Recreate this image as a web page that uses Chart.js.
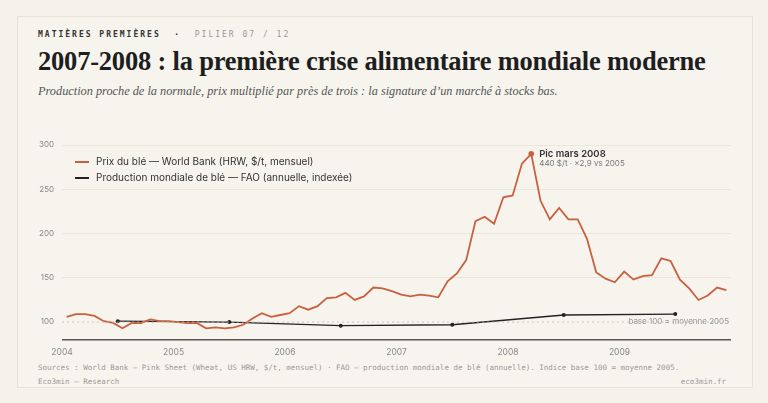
<!DOCTYPE html>
<html>
<head>
<meta charset="utf-8">
<script src="https://cdn.jsdelivr.net/npm/chart.js@4/dist/chart.umd.min.js"></script>
<style>
  body { margin: 0; background: #f5f2ec; width: 768px; height: 403px; overflow: hidden; font-family: Inter, sans-serif; }
  #card { position: absolute; left: 17px; top: 16px; width: 734px; height: 370px; background: #f7f4ee; border: 1px solid #e8e3d8; }
  .kicker { position: absolute; left: 38px; top: 30px; font: bold 8px "DejaVu Sans Mono", monospace; letter-spacing: 2px; color: #333; }
  .kicker span { color: #999; font-weight: normal; }
  h1 { position: absolute; left: 38px; top: 46px; margin: 0; font: bold 26.5px "Liberation Serif", serif; color: #1e1e1e; letter-spacing: -0.2px; white-space: nowrap; }
  .sub { position: absolute; left: 38px; top: 84px; font: italic 12.3px "Liberation Serif", serif; color: #555; white-space: nowrap; }
  #wrap { position: absolute; left: 20px; top: 126px; width: 730px; height: 232px; }
  .legend { position: absolute; left: 75px; font: 10px Inter, sans-serif; color: #333; }
  .legend i { display: inline-block; width: 14px; height: 2px; vertical-align: middle; margin-right: 7px; }
  .src { position: absolute; left: 38px; top: 363px; font: 7.5px "DejaVu Sans Mono", monospace; color: #999; }
  .foot { position: absolute; top: 377px; font: 7.5px "DejaVu Sans Mono", monospace; color: #999; }
</style>
</head>
<body>
<div id="card"></div>
<div class="kicker">MATIÈRES PREMIÈRES &nbsp;· &nbsp;<span>PILIER 07 / 12</span></div>
<h1>2007-2008 : la première crise alimentaire mondiale moderne</h1>
<div class="sub">Production proche de la normale, prix multiplié par près de trois : la signature d’un marché à stocks bas.</div>
<div id="wrap"><canvas id="grafico"></canvas></div>
<div class="legend" style="top:155px"><i style="background:#c8603f"></i>Prix du blé — World Bank (HRW, $/t, mensuel)</div>
<div class="legend" style="top:171px"><i style="background:#222"></i>Production mondiale de blé — FAO (annuelle, indexée)</div>
<div class="src">Sources : World Bank — Pink Sheet (Wheat, US HRW, $/t, mensuel) · FAO — production mondiale de blé (annuelle). Indice base 100 = moyenne 2005.</div>
<div class="foot" style="left:38px">Eco3min — Research</div>
<div class="foot" style="right:42px">eco3min.fr</div>
<script>
var annees = [2004, 2005, 2006, 2007, 2008, 2009];
var prix2004 = [109, 106, 109, 109, 107, 101, 99, 93, 99, 99, 103, 101];
var prix2005 = [101, 100, 99, 99, 93, 94, 93, 94, 97, 104, 110, 106];
var prix2006 = [108, 110, 118, 114, 118, 127, 128, 133, 125, 129, 139, 138];
var prix2007 = [135, 131, 129, 131, 130, 128, 146, 155, 170, 214, 219, 211];
var prix2008 = [241, 243, 279, 290, 237, 216, 229, 216, 216, 194, 156, 149];
var prix2009 = [145, 157, 148, 152, 153, 172, 169, 148, 138, 125, 130, 139];
var prix2010 = [136];
var productionAnnees = [2004.5, 2005.5, 2006.5, 2007.5, 2008.5, 2009.5];
var production = [101, 100, 96, 97, 108, 109];
var yTicks = [100, 150, 200, 250, 300];

var prixSeries = [prix2004, prix2005, prix2006, prix2007, prix2008, prix2009, prix2010];
var prixData = [];
prixSeries.forEach(function (serie, i) {
    serie.forEach(function (v, m) {
        prixData.push({ x: 2004 + i + (m - 0.5) / 12, y: v });
    });
});
prixData.shift();
var picIndex = 50;
var prodData = productionAnnees.map(function (x, i) { return { x: x, y: production[i] }; });

var extras = {
    id: 'extras',
    afterDatasetsDraw: function (chart) {
        var ctx = chart.ctx, xs = chart.scales.x, ys = chart.scales.y, a = chart.chartArea;
        var y100 = ys.getPixelForValue(100);
        ctx.save();
        ctx.strokeStyle = '#c9b9a8'; ctx.lineWidth = 0.8; ctx.setLineDash([2, 3]);
        ctx.beginPath(); ctx.moveTo(a.left, y100); ctx.lineTo(a.right, y100); ctx.stroke();
        ctx.setLineDash([]);
        ctx.font = '8px Inter'; ctx.fillStyle = '#999'; ctx.textAlign = 'right'; ctx.textBaseline = 'middle';
        ctx.fillText('base 100 = moyenne 2005', a.right - 2, y100);
        ctx.strokeStyle = '#555'; ctx.lineWidth = 1.5;
        ctx.beginPath(); ctx.moveTo(a.left, a.bottom); ctx.lineTo(a.right, a.bottom); ctx.stroke();
        var p = prixData[picIndex];
        var px = xs.getPixelForValue(p.x), py = ys.getPixelForValue(p.y);
        ctx.fillStyle = '#c8603f'; ctx.beginPath(); ctx.arc(px, py, 2.8, 0, Math.PI * 2); ctx.fill();
        ctx.textAlign = 'left';
        ctx.font = '600 9.5px Inter'; ctx.fillStyle = '#333'; ctx.fillText('Pic mars 2008', px + 8, py);
        ctx.font = '8px Inter'; ctx.fillStyle = '#777'; ctx.fillText('440 $/t · ×2,9 vs 2005', px + 8, py + 10);
        ctx.restore();
    }
};

new Chart(document.getElementById('grafico'), {
    type: 'scatter',
    data: {
        datasets: [
            { data: prixData, showLine: true, borderColor: '#c8603f', borderWidth: 1.8, pointRadius: 0, tension: 0 },
            { data: prodData, showLine: true, borderColor: '#222', borderWidth: 1.3, pointRadius: 2, pointBackgroundColor: '#222', pointBorderWidth: 0 }
        ]
    },
    options: {
        responsive: true, maintainAspectRatio: false, animation: false,
        layout: { padding: { left: 11, right: 19, top: 19 } },
        plugins: { legend: { display: false }, tooltip: { enabled: false } },
        scales: {
            x: {
                type: 'linear', min: 2004, max: 2010,
                afterBuildTicks: function (s) { s.ticks = annees.map(function (v) { return { value: v }; }); },
                ticks: { color: '#888', font: { family: 'Inter', size: 8.5 }, callback: function (v) { return v; }, padding: 0 },
                grid: { display: false }, border: { display: false }
            },
            y: {
                min: 80, max: 300,
                afterBuildTicks: function (s) { s.ticks = yTicks.map(function (v) { return { value: v }; }); },
                ticks: { color: '#888', font: { family: 'Inter', size: 8 }, padding: 8 },
                grid: { color: function (c) { return c.tick.value === 100 ? 'transparent' : '#ebe5da'; }, drawTicks: false },
                border: { display: false }
            }
        }
    },
    plugins: [extras]
});
</script>
</body>
</html>
